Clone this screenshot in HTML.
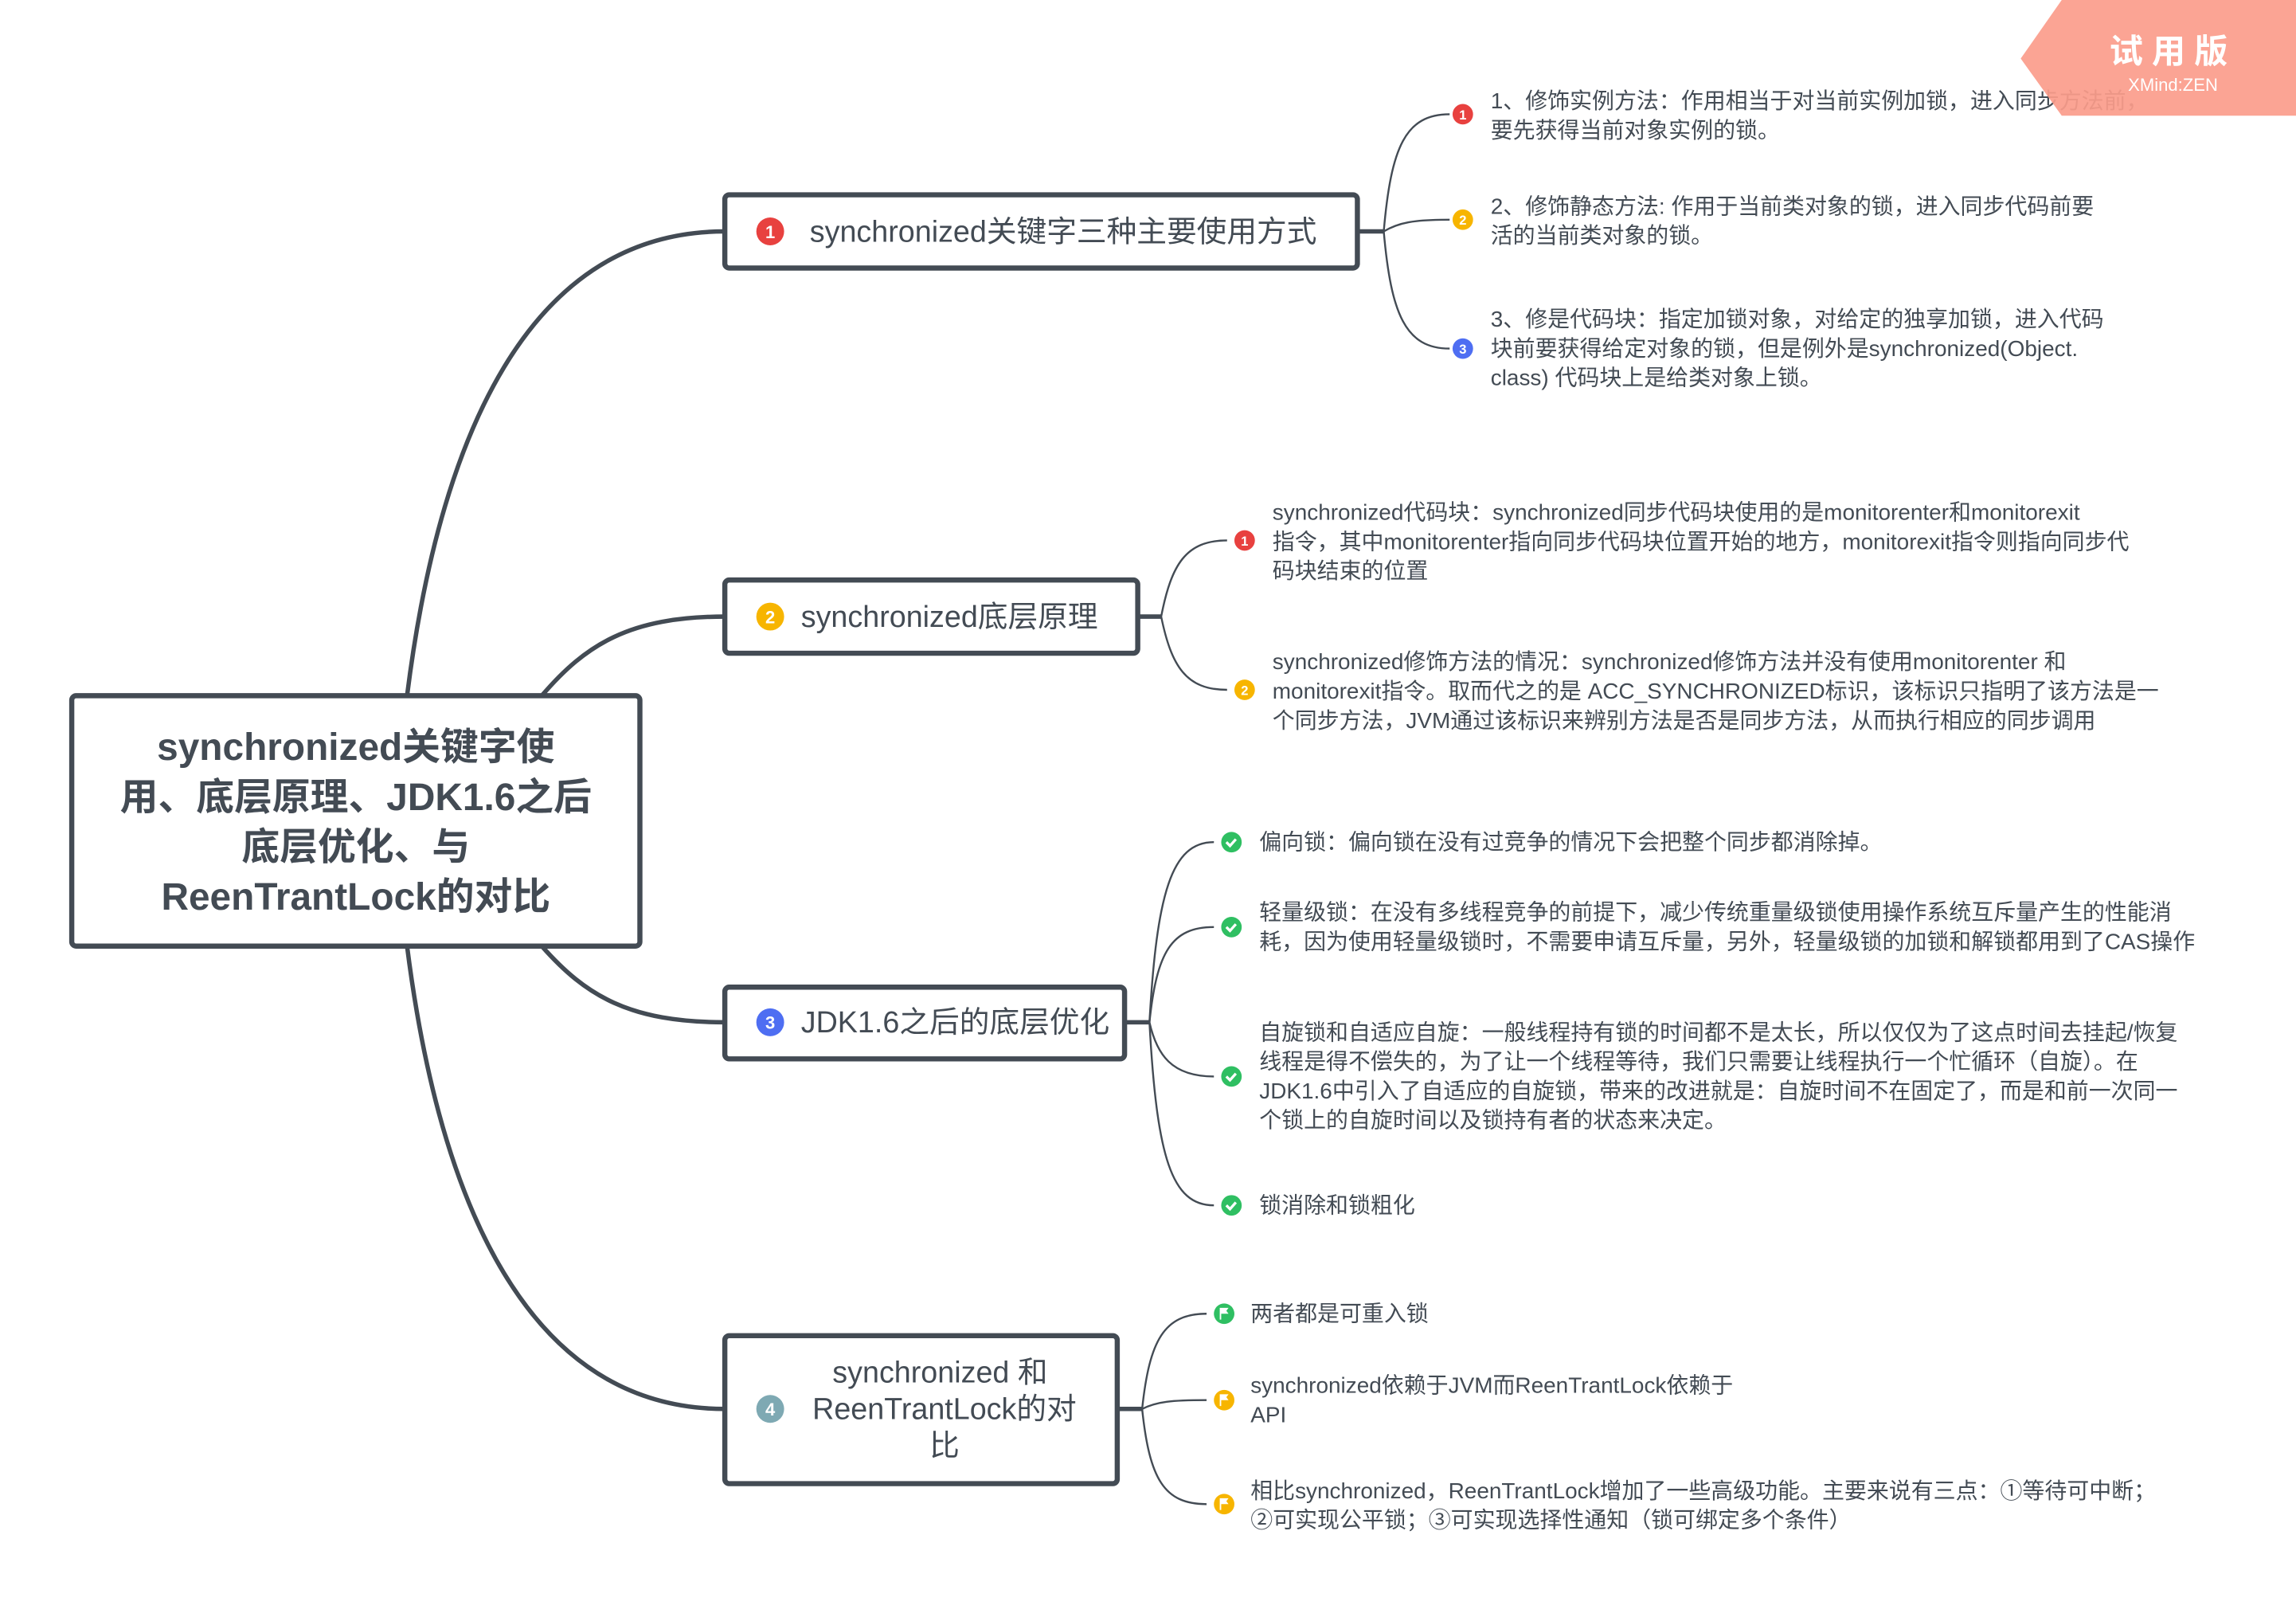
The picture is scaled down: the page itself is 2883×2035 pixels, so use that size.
<!DOCTYPE html>
<html><head><meta charset="utf-8"><style>
html,body{margin:0;padding:0;background:#fff;}
svg{display:block;}
text{font-family:"Liberation Sans","Noto Sans CJK SC",sans-serif;fill:#434b54;}
</style></head><body>
<svg width="2883" height="2035" viewBox="0 0 1568 1106.8" preserveAspectRatio="none" xmlns="http://www.w3.org/2000/svg">
<rect width="1568" height="1107" fill="#fff"/>
<g fill="none" stroke="#434b54" stroke-width="3">
<path d="M278 475 C 300 300, 360 158, 495 158"/>
<path d="M370 475 C 400 440, 430 421, 495 421"/>
<path d="M370 646 C 400 680, 430 698, 495 698"/>
<path d="M278 646 C 300 820, 360 962, 495 962"/>
<line x1="927" y1="158" x2="945" y2="158"/>
<line x1="777" y1="421" x2="793" y2="421"/>
<line x1="768" y1="698" x2="785" y2="698"/>
<line x1="763" y1="962" x2="780" y2="962"/>
</g>
<g fill="none" stroke="#434b54" stroke-width="1.3">
<path d="M945 158 C 950 100, 960 78, 990 78"/>
<path d="M945 158 C 955 152, 965 150, 990 150"/>
<path d="M945 158 C 950 215, 960 238, 990 238"/>
<path d="M793 421 C 800 385, 810 369, 838 369"/>
<path d="M793 421 C 800 455, 810 471, 838 471"/>
<path d="M785 698 C 790 610, 800 575, 829 575"/>
<path d="M785 698 C 790 650, 800 633, 829 633"/>
<path d="M785 698 C 790 720, 800 735, 829 735"/>
<path d="M785 698 C 790 790, 800 823, 829 823"/>
<path d="M780 962 C 785 915, 795 897, 824 897"/>
<path d="M780 962 C 790 957, 800 956, 824 956"/>
<path d="M780 962 C 785 1010, 795 1027, 824 1027"/>
</g>
<g fill="#fff" stroke="#434b54" stroke-width="3.5">
<rect x="49" y="475" width="388" height="171" rx="3"/>
<rect x="495" y="133" width="432" height="50" rx="3"/>
<rect x="495" y="396" width="282" height="50" rx="3"/>
<rect x="495" y="674" width="273" height="49" rx="3"/>
<rect x="495" y="912" width="268" height="101" rx="3"/>
</g>
<g font-weight="bold" font-size="26" text-anchor="middle">
<text x="243" y="519">synchronized关键字使</text>
<text x="243" y="553">用、底层原理、JDK1.6之后</text>
<text x="243" y="587">底层优化、与</text>
<text x="243" y="621">ReenTrantLock的对比</text>
</g>
<g font-size="20.5">
<text x="553" y="165">synchronized关键字三种主要使用方式</text>
<text x="547" y="428">synchronized底层原理</text>
<text x="547" y="705">JDK1.6之后的底层优化</text>
<text x="642" y="944" text-anchor="middle">synchronized 和</text>
<text x="645" y="969" text-anchor="middle">ReenTrantLock的对</text>
<text x="645" y="994" text-anchor="middle">比</text>
</g>
<g font-size="12" font-weight="bold" text-anchor="middle">
<circle cx="526" cy="158" r="9.5" fill="#e8413f"/><text x="526" y="162.5" style="fill:#fff">1</text>
<circle cx="526" cy="421" r="9.5" fill="#f7b500"/><text x="526" y="425.5" style="fill:#fff">2</text>
<circle cx="526" cy="698" r="9.5" fill="#4e6ef2"/><text x="526" y="702.5" style="fill:#fff">3</text>
<circle cx="526" cy="962" r="9.5" fill="#7ea9b3"/><text x="526" y="966.5" style="fill:#fff">4</text>
</g>
<g font-size="9" font-weight="bold" text-anchor="middle">
<circle cx="999" cy="78" r="7" fill="#e8413f"/><text x="999" y="81.5" style="fill:#fff">1</text>
<circle cx="999" cy="150" r="7" fill="#f7b500"/><text x="999" y="153.5" style="fill:#fff">2</text>
<circle cx="999" cy="238" r="7" fill="#4e6ef2"/><text x="999" y="241.5" style="fill:#fff">3</text>
<circle cx="850" cy="369" r="7" fill="#e8413f"/><text x="850" y="372.5" style="fill:#fff">1</text>
<circle cx="850" cy="471" r="7" fill="#f7b500"/><text x="850" y="474.5" style="fill:#fff">2</text>
</g>
<g>
<circle cx="841" cy="575" r="7" fill="#2fbf62"/><circle cx="841" cy="633" r="7" fill="#2fbf62"/>
<circle cx="841" cy="735" r="7" fill="#2fbf62"/><circle cx="841" cy="823" r="7" fill="#2fbf62"/>
<g fill="none" stroke="#fff" stroke-width="1.8">
<path d="M837.5 575 l2.5 2.5 l4 -4.5"/><path d="M837.5 633 l2.5 2.5 l4 -4.5"/>
<path d="M837.5 735 l2.5 2.5 l4 -4.5"/><path d="M837.5 823 l2.5 2.5 l4 -4.5"/>
</g>
<circle cx="836" cy="897" r="7" fill="#2fbf62"/><circle cx="836" cy="956" r="7" fill="#f7b500"/><circle cx="836" cy="1027" r="7" fill="#f7b500"/>
<g fill="#fff"><path d="M833 893 h6 l-1.5 2 l1.5 2 h-5 v4 h-1z"/><path d="M833 952 h6 l-1.5 2 l1.5 2 h-5 v4 h-1z"/><path d="M833 1023 h6 l-1.5 2 l1.5 2 h-5 v4 h-1z"/></g>
</g>
<g font-size="15.2">
<text x="1018" y="74">1、修饰实例方法：作用相当于对当前实例加锁，进入同步方法前，</text>
<text x="1018" y="94">要先获得当前对象实例的锁。</text>
<text x="1018" y="146">2、修饰静态方法: 作用于当前类对象的锁，进入同步代码前要</text>
<text x="1018" y="166">活的当前类对象的锁。</text>
<text x="1018" y="223">3、修是代码块：指定加锁对象，对给定的独享加锁，进入代码</text>
<text x="1018" y="243">块前要获得给定对象的锁，但是例外是synchronized(Object.</text>
<text x="1018" y="263">class) 代码块上是给类对象上锁。</text>
<text x="869" y="355">synchronized代码块：synchronized同步代码块使用的是monitorenter和monitorexit</text>
<text x="869" y="375">指令，其中monitorenter指向同步代码块位置开始的地方，monitorexit指令则指向同步代</text>
<text x="869" y="395">码块结束的位置</text>
<text x="869" y="457">synchronized修饰方法的情况：synchronized修饰方法并没有使用monitorenter 和</text>
<text x="869" y="477">monitorexit指令。取而代之的是 ACC_SYNCHRONIZED标识，该标识只指明了该方法是一</text>
<text x="869" y="497">个同步方法，JVM通过该标识来辨别方法是否是同步方法，从而执行相应的同步调用</text>
<text x="860" y="580">偏向锁：偏向锁在没有过竞争的情况下会把整个同步都消除掉。</text>
<text x="860" y="628">轻量级锁：在没有多线程竞争的前提下，减少传统重量级锁使用操作系统互斥量产生的性能消</text>
<text x="860" y="648">耗，因为使用轻量级锁时，不需要申请互斥量，另外，轻量级锁的加锁和解锁都用到了CAS操作</text>
<text x="860" y="710">自旋锁和自适应自旋：一般线程持有锁的时间都不是太长，所以仅仅为了这点时间去挂起/恢复</text>
<text x="860" y="730">线程是得不偿失的，为了让一个线程等待，我们只需要让线程执行一个忙循环（自旋）。在</text>
<text x="860" y="750">JDK1.6中引入了自适应的自旋锁，带来的改进就是：自旋时间不在固定了，而是和前一次同一</text>
<text x="860" y="770">个锁上的自旋时间以及锁持有者的状态来决定。</text>
<text x="860" y="828">锁消除和锁粗化</text>
<text x="854" y="902">两者都是可重入锁</text>
<text x="854" y="951">synchronized依赖于JVM而ReenTrantLock依赖于</text>
<text x="854" y="971">API</text>
<text x="854" y="1023">相比synchronized，ReenTrantLock增加了一些高级功能。主要来说有三点：①等待可中断；</text>
<text x="854" y="1043">②可实现公平锁；③可实现选择性通知（锁可绑定多个条件）</text>
</g>
<polygon points="1408,0 1568,0 1568,79 1408,79 1380,40" fill="#fb9c8b" opacity="0.92"/>
<text x="1484" y="43" font-size="23" font-weight="bold" text-anchor="middle" style="fill:#fff" letter-spacing="6">试用版</text>
<text x="1484" y="62" font-size="12" text-anchor="middle" style="fill:#fff">XMind:ZEN</text>
</svg>
</body></html>
